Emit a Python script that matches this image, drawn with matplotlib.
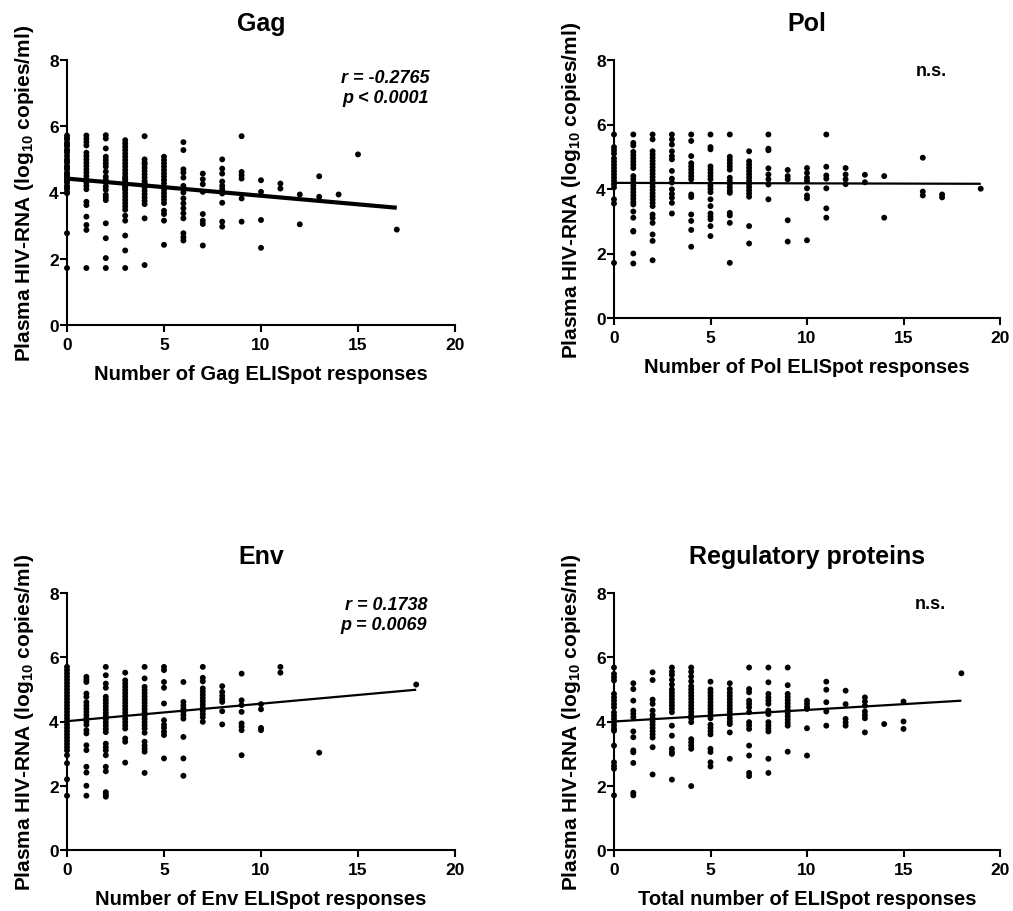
import matplotlib
matplotlib.use("Agg")
import matplotlib.pyplot as plt
import numpy as np

plt.rcParams['font.family'] = ['Liberation Sans', 'DejaVu Sans']
plt.rcParams['font.weight'] = 'bold'
plt.rcParams['mathtext.fontset'] = 'custom'
plt.rcParams['mathtext.rm'] = 'Liberation Sans:bold'
plt.rcParams['mathtext.bf'] = 'Liberation Sans:bold'
plt.rcParams['mathtext.default'] = 'rm'

# ---------------- data (x = number of responses, y = log10 viral load) ----
gag_values = {
    0: [5.72, 5.65, 5.6, 5.5, 5.45, 5.4, 5.3, 5.25, 5.2, 5.1, 5.0, 4.95, 4.9, 4.8, 4.75, 4.7,
        4.6, 4.55, 4.5, 4.45, 4.4, 4.35, 4.3, 4.2, 4.15, 4.1, 4.0, 3.98, 2.77, 1.72],
    1: [5.72, 5.62, 5.52, 5.42, 5.2, 5.1, 5.0, 4.9, 4.8, 4.7, 4.6, 4.5, 4.4, 4.35, 4.3, 4.2,
        4.1, 3.72, 3.62, 3.27, 3.02, 2.87, 1.72],
    2: [5.73, 5.63, 5.33, 5.08, 4.98, 4.88, 4.78, 4.63, 4.48, 4.38, 4.3, 4.18, 4.08, 3.93,
        3.85, 3.77, 3.07, 2.62, 2.02, 1.72],
    3: [5.58, 5.48, 5.38, 5.28, 5.18, 5.08, 4.98, 4.88, 4.78, 4.68, 4.58, 4.48, 4.42, 4.38,
        4.3, 4.28, 4.2, 4.18, 4.1, 4.08, 3.98, 3.88, 3.78, 3.68, 3.58, 3.48, 3.3, 3.15, 2.7,
        2.25, 1.72],
    4: [5.7, 5.0, 4.9, 4.85, 4.75, 4.65, 4.55, 4.45, 4.35, 4.3, 4.25, 4.15, 4.05, 3.95, 3.85,
        3.75, 3.65, 3.22, 1.81],
    5: [5.08, 4.98, 4.88, 4.78, 4.68, 4.58, 4.48, 4.38, 4.28, 4.18, 4.08, 3.98, 3.88, 3.78,
        3.68, 3.45, 3.35, 3.15, 2.42],
    6: [5.52, 5.28, 4.7, 4.6, 4.45, 4.2, 4.0, 3.82, 3.67, 3.52, 3.37, 3.22, 2.77, 2.65, 2.55],
    7: [4.57, 4.4, 4.25, 4.02, 3.35, 3.15, 3.05, 2.4],
    8: [5.0, 4.72, 4.57, 4.33, 4.2, 4.1, 3.97, 3.69, 3.12, 2.97],
    9: [5.7, 4.62, 4.52, 4.42, 3.82, 3.12],
    10: [4.37, 4.02, 3.17, 2.33],
    11: [4.27, 4.12],
    12: [3.94, 3.04],
    13: [4.49, 3.87],
    14: [3.94],
    15: [5.15],
    17: [2.88],
}
pol_values = {
    0: [5.69, 5.3, 5.2, 5.1, 4.95, 4.85, 4.75, 4.65, 4.55, 4.45, 4.35, 4.25, 4.15, 4.05,
        3.68, 3.55, 1.71],
    1: [5.69, 5.43, 5.35, 5.15, 5.05, 4.95, 4.85, 4.75, 4.65, 4.4, 4.3, 4.2, 4.1, 4.0, 3.9,
        3.8, 3.7, 3.6, 3.52, 3.3, 3.11, 2.7, 2.68, 2.0, 1.69],
    2: [5.69, 5.54, 5.17, 5.07, 4.97, 4.87, 4.77, 4.67, 4.57, 4.47, 4.37, 4.27, 4.17, 4.07,
        3.97, 3.87, 3.77, 3.67, 3.57, 3.47, 3.21, 3.1, 2.95, 2.59, 2.39, 1.79],
    3: [5.69, 5.54, 5.38, 5.17, 5.02, 4.92, 4.56, 4.32, 4.2, 3.99, 3.85, 3.73, 3.57, 3.24],
    4: [5.69, 5.49, 5.02, 4.8, 4.7, 4.6, 4.5, 4.4, 4.3, 3.83, 3.75, 3.21, 3.01, 2.73, 2.21],
    5: [5.69, 5.3, 5.23, 4.7, 4.6, 4.5, 4.4, 4.3, 4.1, 4.0, 3.9, 3.68, 3.47, 3.24, 3.15,
        3.06, 2.85, 2.54],
    6: [5.69, 5.0, 4.9, 4.8, 4.7, 4.6, 4.35, 4.25, 4.15, 4.05, 3.95, 3.88, 3.26, 3.18, 2.95,
        1.71],
    7: [5.17, 4.86, 4.76, 4.66, 4.56, 4.46, 4.36, 4.26, 4.16, 4.06, 3.96, 3.86, 3.76, 2.85,
        2.31],
    8: [5.69, 5.25, 5.2, 4.64, 4.45, 4.3, 4.14, 3.68],
    9: [4.59, 4.4, 4.3, 3.03, 2.37],
    10: [4.65, 4.5, 4.35, 4.25, 4.02, 3.8, 3.71, 2.41],
    11: [5.69, 4.69, 4.42, 4.32, 4.02, 3.4, 3.11],
    12: [4.65, 4.45, 4.3, 4.15],
    13: [4.44, 4.21],
    14: [4.4, 3.11],
    16: [4.97, 3.92, 3.8],
    17: [3.83, 3.74],
    19: [4.01],
}
env_values = {
    0: [5.7, 5.6, 5.5, 5.4, 5.3, 5.2, 5.1, 5.0, 4.9, 4.8, 4.7, 4.6, 4.5, 4.4, 4.3, 4.2, 4.1,
        4.0, 3.9, 3.8, 3.7, 3.6, 3.5, 3.4, 3.3, 3.2, 3.1, 2.95, 2.7, 2.2, 1.69],
    1: [5.39, 5.3, 5.23, 4.87, 4.77, 4.6, 4.5, 4.4, 4.3, 4.2, 4.1, 4.0, 3.9, 3.73, 3.63,
        3.26, 3.11, 2.59, 2.41, 2.0, 1.69],
    2: [5.7, 5.44, 5.18, 5.05, 4.77, 4.67, 4.57, 4.47, 4.37, 4.27, 4.17, 4.07, 3.97, 3.87,
        3.77, 3.67, 3.31, 3.2, 3.1, 2.95, 2.59, 2.45, 1.8, 1.72, 1.66],
    3: [5.52, 5.28, 5.18, 5.08, 4.98, 4.88, 4.78, 4.68, 4.58, 4.48, 4.38, 4.28, 4.18, 4.08,
        3.98, 3.88, 3.78, 3.47, 3.37, 2.72],
    4: [5.7, 5.34, 5.08, 4.98, 4.88, 4.78, 4.68, 4.58, 4.48, 4.38, 4.28, 4.18, 4.08, 3.98,
        3.88, 3.78, 3.65, 3.37, 3.25, 3.15, 3.06, 2.4],
    5: [5.7, 5.6, 5.23, 5.05, 4.56, 4.04, 3.9, 3.8, 3.68, 3.58, 2.85],
    6: [5.23, 4.61, 4.5, 4.4, 4.3, 4.2, 4.09, 3.52, 2.85, 2.31],
    7: [5.7, 5.36, 5.25, 5.03, 4.93, 4.83, 4.73, 4.63, 4.53, 4.43, 4.33, 4.23, 4.13, 3.99],
    8: [5.1, 4.92, 4.8, 4.7, 4.61, 4.32, 3.91],
    9: [5.49, 4.66, 4.51, 4.3, 3.94, 3.84, 3.73, 2.95],
    10: [4.54, 4.38, 3.8, 3.73],
    11: [5.7, 5.52],
    13: [3.03],
    18: [5.15],
}
reg_values = {
    0: [5.68, 5.48, 5.38, 5.28, 4.86, 4.75, 4.65, 4.54, 4.44, 4.28, 4.18, 4.08, 3.98, 3.88,
        3.78, 3.71, 3.25, 2.73, 2.62, 2.53, 1.7],
    1: [5.19, 5.01, 4.65, 4.34, 4.24, 4.13, 3.69, 3.51, 3.1, 3.04, 2.71, 1.78, 1.7],
    2: [5.53, 5.29, 4.68, 4.55, 4.34, 4.2, 4.1, 4.0, 3.9, 3.8, 3.7, 3.6, 3.5, 3.2, 2.35],
    3: [5.68, 5.55, 5.45, 5.3, 5.15, 5.0, 4.9, 4.8, 4.7, 4.6, 4.5, 4.4, 4.29, 3.87, 3.56,
        3.15, 3.05, 2.99, 2.19],
    4: [5.68, 5.55, 5.4, 5.25, 5.1, 5.0, 4.9, 4.8, 4.7, 4.6, 4.5, 4.4, 4.3, 4.2, 4.1, 3.98,
        3.45, 3.35, 3.25, 3.15, 1.99],
    5: [5.24, 5.0, 4.9, 4.8, 4.7, 4.6, 4.5, 4.4, 4.3, 4.2, 4.1, 3.9, 3.8, 3.7, 3.6, 3.15,
        3.05, 2.73, 2.6],
    6: [5.19, 5.01, 4.9, 4.8, 4.7, 4.6, 4.5, 4.4, 4.3, 4.2, 4.1, 4.0, 3.92, 3.66, 2.84],
    7: [5.68, 5.01, 4.91, 4.65, 4.55, 4.44, 4.29, 3.98, 3.88, 3.77, 3.25, 2.94, 2.4, 2.3],
    8: [5.68, 5.22, 4.86, 4.75, 4.65, 4.55, 4.34, 4.23, 3.98, 3.88, 3.78, 3.69, 2.84, 2.4],
    9: [5.68, 5.13, 4.86, 4.76, 4.66, 4.56, 4.46, 4.36, 4.26, 4.16, 4.06, 3.96, 3.87, 3.06],
    10: [4.65, 4.55, 4.45, 4.39, 3.79, 2.94],
    11: [5.24, 4.99, 4.6, 4.31, 3.87],
    12: [4.96, 4.54, 4.08, 3.97, 3.87],
    13: [4.75, 4.62, 4.49, 4.31, 4.2, 4.1, 3.66],
    14: [3.92],
    15: [4.62, 4.0, 3.77],
    18: [5.5],
}

titles = ["Gag", "Pol", "Env", "Regulatory proteins"]
xlabels = ["Number of Gag ELISpot responses", "Number of Pol ELISpot responses",
           "Number of Env ELISpot responses", "Total number of ELISpot responses"]
ylabel = "Plasma HIV-RNA (log$_{10}$ copies/ml)"
annotations = [["r = -0.2765", "p < 0.0001"], ["n.s."], ["r = 0.1738", "p = 0.0069"], ["n.s."]]
annot_italic = [True, False, True, False]
# fitted regression lines (intercept, slope)
fit_intercepts = [4.42, 4.19, 4.01, 4.00]
fit_slopes = [-0.0518, -0.0015, 0.0544, 0.036]
fit_widths = [3.0, 1.6, 1.6, 1.6]
x_ticks = [0, 5, 10, 15, 20]
y_ticks = [0, 2, 4, 6, 8]
datasets = [gag_values, pol_values, env_values, reg_values]

W, H = 1013, 912
fig = plt.figure(figsize=(W / 100, H / 100), dpi=100)
# axes boxes in pixels: (left, right, top, bottom)
boxes = [(67, 455, 61, 326), (614, 1000, 61, 319), (67, 455, 594, 851), (614, 1000, 594, 851)]
# annotation layout in pixels: (right edge, first baseline)
annot_pos = [(429, 83), (947, 76), (427, 610), (946, 609)]

for i, (data, (l, r, t, b)) in enumerate(zip(datasets, boxes)):
    ax = fig.add_axes([l / W, 1 - b / H, (r - l) / W, (b - t) / H])
    xs = np.concatenate([[k] * len(v) for k, v in data.items()])
    ys = np.concatenate([v for v in data.values()])
    ax.scatter(xs, ys, s=18, color='black', edgecolors='none', clip_on=False, zorder=3)
    xfit = np.array([xs.min(), xs.max()])
    ax.plot(xfit, fit_intercepts[i] + fit_slopes[i] * xfit, color='black',
            lw=fit_widths[i], solid_capstyle='butt', zorder=4, clip_on=False)
    ax.set_xlim(0, 20)
    ax.set_ylim(0, 8)
    ax.set_xticks(x_ticks)
    ax.set_yticks(y_ticks)
    for s in ['top', 'right']:
        ax.spines[s].set_visible(False)
    for s in ['left', 'bottom']:
        ax.spines[s].set_linewidth(1.5)
    ax.tick_params(direction='out', length=5, width=1.5, labelsize=12.5)
    ax.tick_params(axis='x', pad=3.5)
    ax.tick_params(axis='y', pad=1)
    for lab in ax.get_xticklabels() + ax.get_yticklabels():
        lab.set_fontweight('bold')
    wpx, hpx = r - l, b - t
    # title
    ax.text(0.5, 1 + 30 / hpx, titles[i], transform=ax.transAxes, ha='center',
            va='baseline', fontsize=18, fontweight='bold')
    ax.set_xlabel(xlabels[i], fontsize=14.5, fontweight='bold', va='top')
    ax.xaxis.set_label_coords(0.5, -39 / hpx)
    ax.set_ylabel(ylabel, fontsize=15, fontweight='bold')
    ax.yaxis.set_label_coords(-31 / wpx, 0.5)
    rx, by = annot_pos[i]
    for j, line in enumerate(annotations[i]):
        yy = by + 20 * j
        ax.text((rx - l) / wpx, 1 - (yy - t) / hpx, line, transform=ax.transAxes,
                ha='right', va='baseline', fontsize=13, fontweight='bold',
                fontstyle='italic' if annot_italic[i] else 'normal')

fig.savefig("out.png", dpi=100)
